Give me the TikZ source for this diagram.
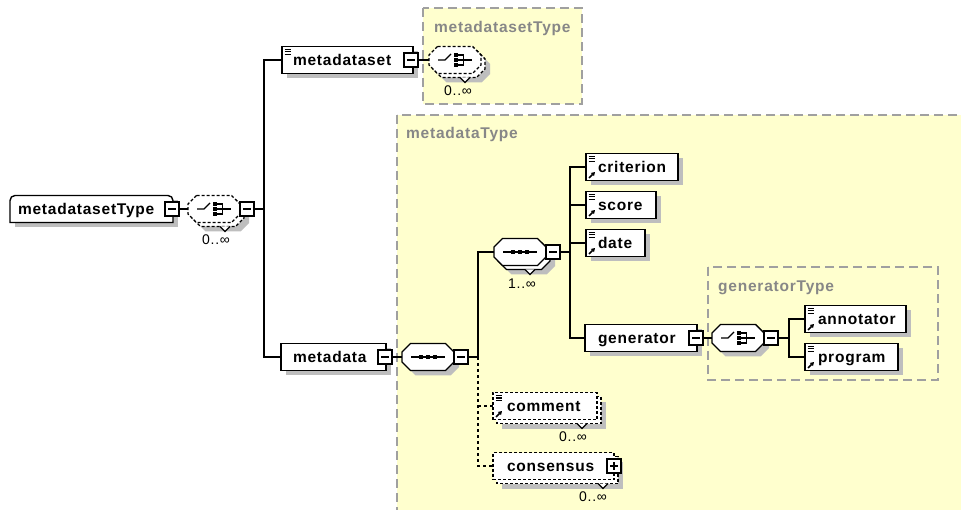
\documentclass[tikz,border=0pt]{standalone}
\usepackage{fontspec}
\newfontfamily\elfam[LetterSpace=5]{Liberation Sans}
\usetikzlibrary{calc,arrows.meta}
\pgfdeclarelayer{bg}\pgfdeclarelayer{sh}\pgfdeclarelayer{cp}
\pgfsetlayers{bg,sh,cp,main}
\definecolor{ylw}{RGB}{255,255,206}
\definecolor{rborder}{RGB}{160,160,160}
\definecolor{rtext}{RGB}{135,135,135}
\definecolor{shd}{RGB}{190,190,190}
\hyphenpenalty=10000 \exhyphenpenalty=10000
\newcommand\octo{(-17.5,-13.5) -- (17.5,-13.5) -- (26,-5) -- (26,5) -- (17.5,13.5) -- (-17.5,13.5) -- (-26,5) -- (-26,-5) -- cycle}
\newcommand\compo[4]{%
  \begin{pgfonlayer}{sh}\fill[shd,shift={(#2+5,#3+5)}] \octo;\end{pgfonlayer}
  \begin{pgfonlayer}{cp}\draw[cborder,#4,shift={(#2,#3)}] \octo;\end{pgfonlayer}
  \node[cnode] (#1) at (#2,#3) {};}
\newcommand\compostack[4]{%
  \begin{pgfonlayer}{sh}\fill[shd,shift={(#2+9,#3+9)}] \octo;
  \draw[cborder,#4,shift={(#2+4,#3+4)}] \octo;\end{pgfonlayer}
  \begin{pgfonlayer}{cp}\draw[cborder,#4,shift={(#2,#3)}] \octo;\end{pgfonlayer}
  \node[cnode] (#1) at (#2,#3) {};}
\newcommand\shad[2]{\begin{pgfonlayer}{sh}\fill[shd] ($(#1.north west)+(#2,#2)$) rectangle ($(#1.south east)+(#2,#2)$);\end{pgfonlayer}}
\newcommand\stackcopy[1]{\begin{pgfonlayer}{sh}\draw[eborder,dpat] ($(#1.north west)+(4,4)$) rectangle ($(#1.south east)+(4,4)$);\end{pgfonlayer}}
\newcommand\seqicon[1]{\draw[line width=1.3pt] ($(#1.center)+(-17,0)$) -- ($(#1.center)+(17,0)$);
  \foreach \dx in {-7,0,7}{\fill ($(#1.center)+(\dx,0)+(-2.2,-2.2)$) rectangle ++(4.4,4.4);}}
\newcommand\choiceicon[1]{%
  \draw[line width=1.3pt] ($(#1.center)+(-17,0)$) -- ++(7,0) -- ++(6,-6);
  \foreach \dy in {-5,0,5}{\fill ($(#1.center)+(0.5,\dy)+(-2,-2)$) rectangle ++(4,4);}
  \draw[line width=1.3pt] ($(#1.center)+(2.5,-5)$) -- ++(6,0) -- ++(0,10) -- ++(-6,0);
  \draw[line width=1.3pt] ($(#1.center)+(2.5,0)$) -- ++(14,0);}
\newcommand\xeq[1]{\foreach \k in {3,5.5,8}{\draw[line width=1pt] ($(#1.north west)+(2.5,\k)$) -- ++(6.5,0);}}
\newcommand\xref[1]{\draw[line width=1.6pt,-{Triangle[length=3.6pt,width=4.2pt]}] ($(#1.south west)+(3,-2.5)$) -- ++(6,-6);}
\begin{document}
\begin{tikzpicture}[x=1pt,y=-1pt,
  region/.style={fill=ylw, draw=rborder, line width=1.6pt, dash pattern=on 9pt off 5pt},
  rlabel/.style={anchor=base west, inner sep=0pt, text=rtext, font=\elfam\bfseries\fontsize{15.5}{17}\selectfont},
  eborder/.style={draw=black, fill=white, line width=1.4pt},
  cborder/.style={draw=black, fill=white, line width=1.4pt},
  dpat/.style={dash pattern=on 3pt off 2pt},
  elem/.style={anchor=west, rectangle, eborder, outer sep=0pt, inner xsep=12pt, inner ysep=0pt,
    minimum height=27pt, align=left, text height=13pt, text depth=2pt,
    font=\elfam\bfseries\fontsize{15.5}{17}\selectfont},
  cnode/.style={rectangle, minimum width=52pt, minimum height=27pt, inner sep=0pt, outer sep=0pt},
  mbox/.style={rectangle, draw, fill=white, line width=1.1pt, minimum size=14pt, inner sep=0pt, outer sep=0pt,
    path picture={\draw[line width=1.1pt] ([xshift=3pt]path picture bounding box.west) -- ([xshift=-3pt]path picture bounding box.east);}},
  pbox/.style={mbox, path picture={\draw[line width=1.1pt] ([xshift=3pt]path picture bounding box.west) -- ([xshift=-3pt]path picture bounding box.east);
    \draw[line width=1.1pt] ([yshift=-3pt]path picture bounding box.north) -- ([yshift=3pt]path picture bounding box.south);}},
  mult/.style={inner sep=0pt, font=\elfam\fontsize{14}{16}\selectfont},
  notch/.style={line width=1.1pt, fill=white},
  conn/.style={line width=1.3pt},
  oconn/.style={line width=1.3pt, dash pattern=on 3pt off 3pt}]
\useasboundingbox (0,0) rectangle (961,510);
% regions
\begin{pgfonlayer}{bg}
  \begin{scope}
    \clip (0,0) rectangle (961,510);
    \draw[region] (397,115) rectangle (985,535);
  \end{scope}
  \draw[region] (423,8) rectangle (582,104);
  \draw[region] (708,267) rectangle (938,380);
\end{pgfonlayer}
\node[rlabel] (tA) at (434,33) {metadatasetType};
\node[rlabel] (tB) at (406,139) {metadataType};
\node[rlabel] (tC) at (718,292) {generatorType};
% bus coordinates
\coordinate (busA) at (264,0);
\coordinate (busB) at (478,0);
\coordinate (busC) at (570,0);
\coordinate (busD) at (789,0);
% root
\node[elem, draw=none, fill=none, inner xsep=8pt, text width=147pt] (root) at (10,209) {metadatasetType};
\begin{pgfonlayer}{cp}
  \draw[eborder] (root.south east) -- (root.south west) [rounded corners=5pt] -- (root.north west) -- (root.north east) [sharp corners] -- cycle;
\end{pgfonlayer}
\shad{root}{5}
\node[mbox] (rootm) at (172,209) {};
\compostack{c0}{214}{209}{dpat}
\choiceicon{c0}
\draw[notch] (220,226.5) -- (225,231.5) -- (230,226.5);
\node[mbox] (c0m) at (247,209) {};
\node[mult] (n0) at (216,240) {0..∞};
% metadataset
\node[elem, inner xsep=11pt, text width=109pt] (mds) at (282,60) {metadataset};
\xeq{mds}\shad{mds}{5}
\node[mbox] (mdsm) at (411,60) {};
\compostack{c1}{455}{60}{dpat}
\choiceicon{c1}
\draw[notch] (460,77.5) -- (465,82.5) -- (470,77.5);
\node[mult] (n1) at (458,91) {0..∞};
% metadata
\node[elem, inner xsep=12pt, text width=81pt] (md) at (281,357) {metadata};
\shad{md}{5}
\node[mbox] (mdm) at (385,357) {};
\compo{c2}{428}{357}{}
\seqicon{c2}
\node[mbox] (c2m) at (461,357) {};
% sequence 1..inf
\compostack{c3}{520}{252}{}
\seqicon{c3}
\draw[notch] (525,269.5) -- (530,274.5) -- (535,269.5);
\node[mbox] (c3m) at (553,252) {};
\node[mult] (n3) at (522,284) {1..∞};
% children
\node[elem, text width=68pt] (crit) at (586,167) {criterion};
\xeq{crit}\xref{crit}\shad{crit}{5}
\node[elem, text width=46pt] (score) at (586,205) {score};
\xeq{score}\xref{score}\shad{score}{5}
\node[elem, text width=35pt] (date) at (586,243) {date};
\xeq{date}\xref{date}\shad{date}{5}
\node[elem, inner xsep=13pt, text width=86pt] (gen) at (585,338) {generator};
\shad{gen}{5}
\node[mbox] (genm) at (696,338) {};
\compo{c4}{738}{338}{}
\choiceicon{c4}
\node[mbox] (c4m) at (771,338) {};
\node[elem, inner xsep=13pt, text width=75pt] (ann) at (805,319) {annotator};
\xeq{ann}\xref{ann}\shad{ann}{5}
\node[elem, inner xsep=13pt, text width=67pt] (prog) at (805,357) {program};
\xeq{prog}\xref{prog}\shad{prog}{5}
% optional
\node[elem, dpat, inner xsep=14pt, text width=76pt] (comm) at (493,406) {comment};
\xeq{comm}\xref{comm}\shad{comm}{9}\stackcopy{comm}
\draw[notch] (577,423.5) -- (582,428.5) -- (587,423.5);
\node[mult] (n4) at (573,437) {0..∞};
\node[elem, dpat, inner xsep=14pt, text width=93pt] (cons) at (493,466) {consensus};
\shad{cons}{9}\stackcopy{cons}
\node[pbox] (consp) at (614,466) {};
\draw[notch] (598,483.5) -- (603,488.5) -- (608,483.5);
\node[mult] (n5) at (593,497) {0..∞};
% connectors
\draw[conn] (rootm.east) -- (c0.west);
\draw[conn] (c0m.east) -- (c0m.east -| busA);
\draw[conn] (mds.west) -- (mds.west -| busA) -- (md.west -| busA) -- (md.west);
\draw[conn] (mdsm.east) -- (c1.west);
\draw[conn] (mdm.east) -- (c2.west);
\draw[conn] (c2m.east) -- (c2m.east -| busB);
\draw[conn] (c3.west) -- (c3.west -| busB) -- (c2m.east -| busB);
\draw[oconn] (c2m.east -| busB) -- (cons.west -| busB) -- (cons.west);
\draw[oconn] (comm.west -| busB) -- (comm.west);
\draw[conn] (c3m.east) -- (c3m.east -| busC);
\draw[conn] (crit.west) -- (crit.west -| busC) -- (gen.west -| busC) -- (gen.west);
\draw[conn] (score.west) -- (score.west -| busC);
\draw[conn] (date.west) -- (date.west -| busC);
\draw[conn] (genm.east) -- (c4.west);
\draw[conn] (c4m.east) -- (c4m.east -| busD);
\draw[conn] (ann.west) -- (ann.west -| busD) -- (prog.west -| busD) -- (prog.west);
\end{tikzpicture}
\end{document}
